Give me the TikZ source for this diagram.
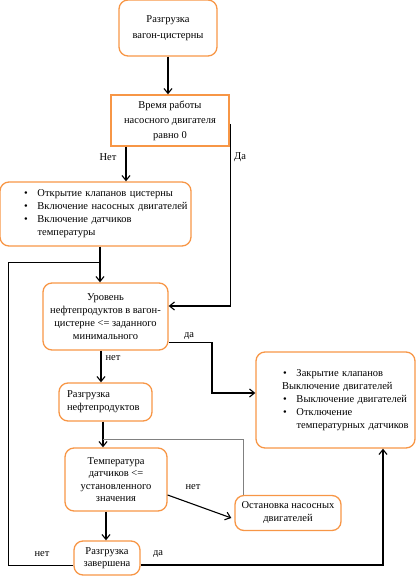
\documentclass[tikz,border=0pt]{standalone}
\usepackage{fontspec}
\setmainfont{Liberation Serif}
\newfontfamily\serifru{Liberation Serif}
\usetikzlibrary{arrows.meta}
\definecolor{boxorange}{RGB}{247,150,70}
\newcommand\bitm[1]{\makebox[13.5pt][l]{\textbullet}#1}
\begin{document}
\begin{tikzpicture}[x=1pt,y=-1pt,
 box/.style={draw=boxorange, line width=1.3pt, rounded corners=9pt, inner sep=0pt, align=center, font=\serifru\fontsize{10.5}{13}\selectfont},
 arr/.style={-{Straight Barb[length=5pt,width=8pt]}, line width=1.1pt},
 conn/.style={line width=1pt},
 thinln/.style={draw=gray, line width=0.6pt},
 lbl/.style={font=\serifru\fontsize{10.5}{12}\selectfont, inner sep=0pt}]
\useasboundingbox (0,0) rectangle (417,577);

\node[box, minimum width=98pt, minimum height=56pt, font=\serifru\fontsize{10.5}{16}\selectfont] (b1) at (168,28) {Разгрузка\\вагон-цистерны};
\node[box, rounded corners=0pt, minimum width=118pt, minimum height=51pt, font=\serifru\fontsize{10.5}{15}\selectfont] (b2) at (170,120.5) {Время работы\\насосного двигателя\\равно 0};
\node[box, minimum width=191pt, minimum height=64pt, align=left, text width=186pt] (b3) at (95.5,214)
 {\hspace*{21.5pt}\bitm{Открытие клапанов цистерны}\\
  \hspace*{21.5pt}\bitm{Включение насосных двигателей}\\
  \hspace*{21.5pt}\bitm{Включение датчиков}\\
  \hspace*{35pt}температуры};
\node[box, minimum width=125pt, minimum height=67pt] (b4) at (105.5,316.5) {Уровень\\нефтепродуктов в вагон-\\цистерне <= заданного\\минимального};
\node[box, minimum width=159pt, minimum height=96pt, align=left, text width=155pt] (b5) at (335.5,400)
 {\hspace*{25pt}\bitm{Закрытие клапанов}\\
  \hspace*{24pt}Выключение двигателей\\
  \hspace*{25pt}\bitm{Выключение двигателей}\\
  \hspace*{25pt}\bitm{Отключение}\\
  \hspace*{38.5pt}температурных датчиков};
\node[box, minimum width=93pt, minimum height=38pt, align=left, text width=77pt] (b6) at (105.5,402) {Разгрузка\\нефтепродуктов};
\node[box, minimum width=102pt, minimum height=63pt, font=\serifru\fontsize{10.5}{12.5}\selectfont] (b7) at (116,479.5) {Температура\\датчиков <=\\установленного\\значения};
\node[box, minimum width=106pt, minimum height=35pt] (b8) at (288,513) {Остановка насосных\\двигателей};
\node[box, minimum width=66pt, minimum height=34pt, font=\serifru\fontsize{10.5}{12}\selectfont] (b9) at (107,558) {Разгрузка\\завершена};

% labels
\node[lbl] (l1) at (108,157) {Нет};
\node[lbl] (l2) at (240,157) {Да};
\node[lbl] (l3) at (189,336) {да};
\node[lbl] (l4) at (113,358) {нет};
\node[lbl] (l5) at (193,487) {нет};
\node[lbl] (l6) at (42,554) {нет};
\node[lbl] (l7) at (158,554) {да};

% coordinates
\coordinate (loopL) at (8,262);
\coordinate (k1) at (212,342);
\coordinate (g1) at (243,439);
\coordinate (j1) at ([xshift=4.5pt]b3.south);
\coordinate (j2) at ([xshift=-2.5pt]b6.south);

% connectors
\draw[arr] (b1.south) -- (b1.south |- b2.north);
\draw[arr] ([xshift=-44pt]b2.south) -- ([xshift=-44pt]b2.south |- b3.north);
\draw[arr] ([xshift=1pt,yshift=-3.5pt]b2.east) |- ([yshift=10.5pt]b4.east);
\draw[arr] (j1) -- (j1 |- b4.north);
\draw[conn] ([yshift=-7pt]b9.west) -| (loopL) -- (loopL -| j1);
\draw[conn] ([yshift=-25.5pt]b4.east) -| (k1);
\draw[arr] (k1) |- ([yshift=7pt]b5.west);
\draw[arr] ([xshift=-4.5pt]b4.south) -- ([xshift=-4.5pt]b4.south |- b6.north);
\draw[arr] (j2) -- (j2 |- b7.north);
\draw[thinln] (g1 -| j2) -- (g1) -- (g1 |- b8.north);
\draw[arr] ([yshift=-15.5pt]b7.east) -- ([xshift=-3pt,yshift=-5pt]b8.west);
\draw[arr] ([xshift=-10pt]b7.south) -- ([xshift=-10pt]b7.south |- b9.north);
\draw[arr] ([yshift=-7pt]b9.east) -| ([xshift=47.5pt]b5.south);
\end{tikzpicture}
\end{document}
